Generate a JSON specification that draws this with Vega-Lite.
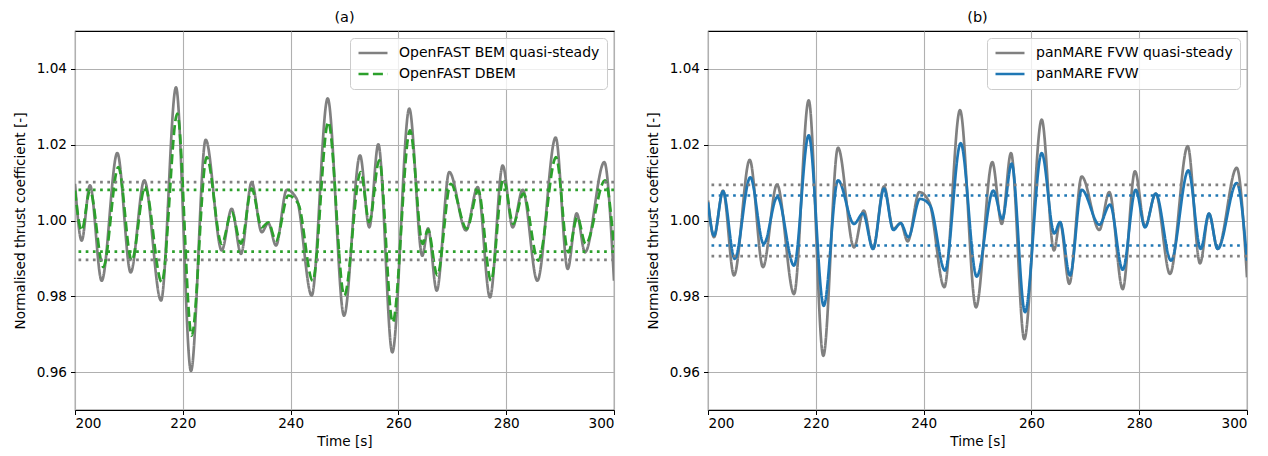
{
  "$schema": "https://vega.github.io/schema/vega-lite/v6.json",
  "padding": {"left": 12, "top": 8, "right": 5, "bottom": 5},
  "spacing": 29,
  "config": {
    "font": "DejaVu Sans",
    "view": {"stroke": "#000000", "strokeWidth": 1.1},
    "axis": {
      "domain": false,
      "grid": true,
      "gridColor": "#b0b0b0",
      "gridWidth": 1.1,
      "tickColor": "#000000",
      "tickSize": 4.5,
      "tickWidth": 1,
      "labelColor": "#000000",
      "labelFontSize": 13.6,
      "labelPadding": 4,
      "titleColor": "#000000",
      "titleFontSize": 13.6,
      "titleFontWeight": "normal",
      "titlePadding": 9
    },
    "axisX": {"labelPadding": 2, "titlePadding": 4},
    "legend": {
      "orient": "top-right",
      "offset": 7,
      "fillColor": "rgba(255,255,255,0.8)",
      "strokeColor": "#cccccc",
      "cornerRadius": 4,
      "padding": 7,
      "labelFontSize": 14,
      "labelColor": "#000000",
      "labelLimit": 0,
      "labelOffset": 10,
      "symbolType": "stroke",
      "symbolSize": 840,
      "symbolStrokeWidth": 2.6,
      "clipHeight": 16,
      "rowPadding": 5,
      "title": null
    },
    "title": {"fontSize": 14.5, "fontWeight": "normal", "color": "#000000", "offset": 6}
  },
  "resolve": {
    "scale": {"color": "independent", "strokeDash": "independent"},
    "legend": {"color": "independent", "strokeDash": "independent"}
  },
  "datasets": {
    "curves": [
      {"series": "OpenFAST BEM quasi-steady", "t": 200, "v": 1.0097},
      {"series": "OpenFAST BEM quasi-steady", "t": 201.24, "v": 0.9947},
      {"series": "OpenFAST BEM quasi-steady", "t": 202.78, "v": 1.0093},
      {"series": "OpenFAST BEM quasi-steady", "t": 204.95, "v": 0.9841},
      {"series": "OpenFAST BEM quasi-steady", "t": 207.85, "v": 1.0178},
      {"series": "OpenFAST BEM quasi-steady", "t": 210.33, "v": 0.9863},
      {"series": "OpenFAST BEM quasi-steady", "t": 212.86, "v": 1.0106},
      {"series": "OpenFAST BEM quasi-steady", "t": 215.96, "v": 0.9789},
      {"series": "OpenFAST BEM quasi-steady", "t": 218.74, "v": 1.0351},
      {"series": "OpenFAST BEM quasi-steady", "t": 221.52, "v": 0.9603},
      {"series": "OpenFAST BEM quasi-steady", "t": 224.25, "v": 1.0213},
      {"series": "OpenFAST BEM quasi-steady", "t": 227.22, "v": 0.9921},
      {"series": "OpenFAST BEM quasi-steady", "t": 229.07, "v": 1.0031},
      {"series": "OpenFAST BEM quasi-steady", "t": 230.80, "v": 0.9912},
      {"series": "OpenFAST BEM quasi-steady", "t": 232.78, "v": 1.0101},
      {"series": "OpenFAST BEM quasi-steady", "t": 234.64, "v": 0.9969},
      {"series": "OpenFAST BEM quasi-steady", "t": 235.86, "v": 0.9993},
      {"series": "OpenFAST BEM quasi-steady", "t": 237.29, "v": 0.9934},
      {"series": "OpenFAST BEM quasi-steady", "t": 239.28, "v": 1.0081},
      {"series": "OpenFAST BEM quasi-steady", "t": 241.13, "v": 1.0057},
      {"series": "OpenFAST BEM quasi-steady", "t": 243.91, "v": 0.9802},
      {"series": "OpenFAST BEM quasi-steady", "t": 246.88, "v": 1.0322},
      {"series": "OpenFAST BEM quasi-steady", "t": 249.91, "v": 0.9749},
      {"series": "OpenFAST BEM quasi-steady", "t": 252.88, "v": 1.0172},
      {"series": "OpenFAST BEM quasi-steady", "t": 254.60, "v": 0.9982},
      {"series": "OpenFAST BEM quasi-steady", "t": 256.27, "v": 1.0201},
      {"series": "OpenFAST BEM quasi-steady", "t": 258.87, "v": 0.9652},
      {"series": "OpenFAST BEM quasi-steady", "t": 262.02, "v": 1.0295},
      {"series": "OpenFAST BEM quasi-steady", "t": 264.43, "v": 0.9907},
      {"series": "OpenFAST BEM quasi-steady", "t": 265.50, "v": 0.9979},
      {"series": "OpenFAST BEM quasi-steady", "t": 267.11, "v": 0.9815},
      {"series": "OpenFAST BEM quasi-steady", "t": 269.44, "v": 1.0128},
      {"series": "OpenFAST BEM quasi-steady", "t": 272.54, "v": 0.9974},
      {"series": "OpenFAST BEM quasi-steady", "t": 274.71, "v": 1.0088},
      {"series": "OpenFAST BEM quasi-steady", "t": 276.99, "v": 0.9797},
      {"series": "OpenFAST BEM quasi-steady", "t": 279.35, "v": 1.0145},
      {"series": "OpenFAST BEM quasi-steady", "t": 281.20, "v": 0.9982},
      {"series": "OpenFAST BEM quasi-steady", "t": 283.06, "v": 1.0081},
      {"series": "OpenFAST BEM quasi-steady", "t": 285.77, "v": 0.9841},
      {"series": "OpenFAST BEM quasi-steady", "t": 289.18, "v": 1.0219},
      {"series": "OpenFAST BEM quasi-steady", "t": 291.41, "v": 0.9872},
      {"series": "OpenFAST BEM quasi-steady", "t": 293.08, "v": 1.0019},
      {"series": "OpenFAST BEM quasi-steady", "t": 294.62, "v": 0.9916},
      {"series": "OpenFAST BEM quasi-steady", "t": 298.20, "v": 1.0154},
      {"series": "OpenFAST BEM quasi-steady", "t": 300, "v": 0.9841},

      {"series": "OpenFAST DBEM", "t": 200, "v": 1.0079},
      {"series": "OpenFAST DBEM", "t": 201.24, "v": 0.9974},
      {"series": "OpenFAST DBEM", "t": 202.78, "v": 1.0079},
      {"series": "OpenFAST DBEM", "t": 205.25, "v": 0.9877},
      {"series": "OpenFAST DBEM", "t": 208.03, "v": 1.0141},
      {"series": "OpenFAST DBEM", "t": 210.52, "v": 0.9894},
      {"series": "OpenFAST DBEM", "t": 212.99, "v": 1.0088},
      {"series": "OpenFAST DBEM", "t": 216.09, "v": 0.9837},
      {"series": "OpenFAST DBEM", "t": 218.98, "v": 1.0282},
      {"series": "OpenFAST DBEM", "t": 221.65, "v": 0.9696},
      {"series": "OpenFAST DBEM", "t": 224.43, "v": 1.0167},
      {"series": "OpenFAST DBEM", "t": 227.22, "v": 0.9938},
      {"series": "OpenFAST DBEM", "t": 229.07, "v": 1.0022},
      {"series": "OpenFAST DBEM", "t": 230.80, "v": 0.9939},
      {"series": "OpenFAST DBEM", "t": 232.78, "v": 1.0084},
      {"series": "OpenFAST DBEM", "t": 234.64, "v": 0.9982},
      {"series": "OpenFAST DBEM", "t": 235.86, "v": 0.9995},
      {"series": "OpenFAST DBEM", "t": 237.29, "v": 0.9947},
      {"series": "OpenFAST DBEM", "t": 239.57, "v": 1.0066},
      {"series": "OpenFAST DBEM", "t": 241.43, "v": 1.0044},
      {"series": "OpenFAST DBEM", "t": 244.10, "v": 0.9841},
      {"series": "OpenFAST DBEM", "t": 246.99, "v": 1.0260},
      {"series": "OpenFAST DBEM", "t": 249.96, "v": 0.9802},
      {"series": "OpenFAST DBEM", "t": 253.00, "v": 1.0128},
      {"series": "OpenFAST DBEM", "t": 254.60, "v": 0.9996},
      {"series": "OpenFAST DBEM", "t": 256.45, "v": 1.0159},
      {"series": "OpenFAST DBEM", "t": 258.94, "v": 0.9731},
      {"series": "OpenFAST DBEM", "t": 262.15, "v": 1.0238},
      {"series": "OpenFAST DBEM", "t": 264.50, "v": 0.9938},
      {"series": "OpenFAST DBEM", "t": 265.49, "v": 0.9976},
      {"series": "OpenFAST DBEM", "t": 267.22, "v": 0.9855},
      {"series": "OpenFAST DBEM", "t": 269.70, "v": 1.0097},
      {"series": "OpenFAST DBEM", "t": 272.67, "v": 0.9978},
      {"series": "OpenFAST DBEM", "t": 274.82, "v": 1.0079},
      {"series": "OpenFAST DBEM", "t": 277.18, "v": 0.9841},
      {"series": "OpenFAST DBEM", "t": 279.46, "v": 1.0110},
      {"series": "OpenFAST DBEM", "t": 281.32, "v": 0.9991},
      {"series": "OpenFAST DBEM", "t": 283.17, "v": 1.0071},
      {"series": "OpenFAST DBEM", "t": 285.96, "v": 0.9894},
      {"series": "OpenFAST DBEM", "t": 289.24, "v": 1.0167},
      {"series": "OpenFAST DBEM", "t": 291.52, "v": 0.9916},
      {"series": "OpenFAST DBEM", "t": 293.19, "v": 1.0009},
      {"series": "OpenFAST DBEM", "t": 294.75, "v": 0.9938},
      {"series": "OpenFAST DBEM", "t": 298.33, "v": 1.0106},
      {"series": "OpenFAST DBEM", "t": 300, "v": 0.9929},

      {"series": "panMARE FVW quasi-steady", "t": 200, "v": 1.0053},
      {"series": "panMARE FVW quasi-steady", "t": 201.11, "v": 0.9956},
      {"series": "panMARE FVW quasi-steady", "t": 202.78, "v": 1.0079},
      {"series": "panMARE FVW quasi-steady", "t": 204.82, "v": 0.9855},
      {"series": "panMARE FVW quasi-steady", "t": 207.74, "v": 1.0160},
      {"series": "panMARE FVW quasi-steady", "t": 210.20, "v": 0.9877},
      {"series": "panMARE FVW quasi-steady", "t": 212.80, "v": 1.0095},
      {"series": "panMARE FVW quasi-steady", "t": 215.96, "v": 0.9806},
      {"series": "panMARE FVW quasi-steady", "t": 218.68, "v": 1.0317},
      {"series": "panMARE FVW quasi-steady", "t": 221.39, "v": 0.9643},
      {"series": "panMARE FVW quasi-steady", "t": 224.12, "v": 1.0192},
      {"series": "panMARE FVW quasi-steady", "t": 227.09, "v": 0.9929},
      {"series": "panMARE FVW quasi-steady", "t": 228.89, "v": 1.0026},
      {"series": "panMARE FVW quasi-steady", "t": 230.61, "v": 0.9925},
      {"series": "panMARE FVW quasi-steady", "t": 232.65, "v": 1.0090},
      {"series": "panMARE FVW quasi-steady", "t": 234.38, "v": 0.9978},
      {"series": "panMARE FVW quasi-steady", "t": 235.75, "v": 0.9993},
      {"series": "panMARE FVW quasi-steady", "t": 237.05, "v": 0.9945},
      {"series": "panMARE FVW quasi-steady", "t": 239.20, "v": 1.0075},
      {"series": "panMARE FVW quasi-steady", "t": 241.06, "v": 1.0048},
      {"series": "panMARE FVW quasi-steady", "t": 243.84, "v": 0.9824},
      {"series": "panMARE FVW quasi-steady", "t": 246.75, "v": 1.0291},
      {"series": "panMARE FVW quasi-steady", "t": 249.72, "v": 0.9771},
      {"series": "panMARE FVW quasi-steady", "t": 252.75, "v": 1.0154},
      {"series": "panMARE FVW quasi-steady", "t": 254.49, "v": 0.9991},
      {"series": "panMARE FVW quasi-steady", "t": 256.22, "v": 1.0178},
      {"series": "panMARE FVW quasi-steady", "t": 258.68, "v": 0.9687},
      {"series": "panMARE FVW quasi-steady", "t": 261.91, "v": 1.0266},
      {"series": "panMARE FVW quasi-steady", "t": 264.19, "v": 0.9921},
      {"series": "panMARE FVW quasi-steady", "t": 265.31, "v": 0.9996},
      {"series": "panMARE FVW quasi-steady", "t": 267.03, "v": 0.9833},
      {"series": "panMARE FVW quasi-steady", "t": 269.33, "v": 1.0116},
      {"series": "panMARE FVW quasi-steady", "t": 272.60, "v": 0.9975},
      {"series": "panMARE FVW quasi-steady", "t": 274.45, "v": 1.0075},
      {"series": "panMARE FVW quasi-steady", "t": 276.94, "v": 0.9819},
      {"series": "panMARE FVW quasi-steady", "t": 279.22, "v": 1.0130},
      {"series": "panMARE FVW quasi-steady", "t": 281.08, "v": 0.9984},
      {"series": "panMARE FVW quasi-steady", "t": 283.06, "v": 1.0071},
      {"series": "panMARE FVW quasi-steady", "t": 285.71, "v": 0.9859},
      {"series": "panMARE FVW quasi-steady", "t": 289.00, "v": 1.0196},
      {"series": "panMARE FVW quasi-steady", "t": 291.28, "v": 0.9887},
      {"series": "panMARE FVW quasi-steady", "t": 292.95, "v": 1.0018},
      {"series": "panMARE FVW quasi-steady", "t": 294.56, "v": 0.9925},
      {"series": "panMARE FVW quasi-steady", "t": 298.09, "v": 1.0139},
      {"series": "panMARE FVW quasi-steady", "t": 300, "v": 0.9850},

      {"series": "panMARE FVW", "t": 200, "v": 1.0048},
      {"series": "panMARE FVW", "t": 201.11, "v": 0.9960},
      {"series": "panMARE FVW", "t": 202.78, "v": 1.0077},
      {"series": "panMARE FVW", "t": 204.95, "v": 0.9899},
      {"series": "panMARE FVW", "t": 207.85, "v": 1.0114},
      {"series": "panMARE FVW", "t": 210.33, "v": 0.9938},
      {"series": "panMARE FVW", "t": 212.86, "v": 1.0062},
      {"series": "panMARE FVW", "t": 215.96, "v": 0.9881},
      {"series": "panMARE FVW", "t": 218.68, "v": 1.0225},
      {"series": "panMARE FVW", "t": 221.47, "v": 0.9775},
      {"series": "panMARE FVW", "t": 224.12, "v": 1.0106},
      {"series": "panMARE FVW", "t": 227.09, "v": 0.9991},
      {"series": "panMARE FVW", "t": 228.76, "v": 1.0019},
      {"series": "panMARE FVW", "t": 230.61, "v": 0.9925},
      {"series": "panMARE FVW", "t": 232.65, "v": 1.0084},
      {"series": "panMARE FVW", "t": 234.38, "v": 0.9975},
      {"series": "panMARE FVW", "t": 235.75, "v": 0.9993},
      {"series": "panMARE FVW", "t": 237.16, "v": 0.9956},
      {"series": "panMARE FVW", "t": 239.33, "v": 1.0057},
      {"series": "panMARE FVW", "t": 241.19, "v": 1.0040},
      {"series": "panMARE FVW", "t": 243.97, "v": 0.9868},
      {"series": "panMARE FVW", "t": 246.88, "v": 1.0204},
      {"series": "panMARE FVW", "t": 249.85, "v": 0.9852},
      {"series": "panMARE FVW", "t": 252.93, "v": 1.0079},
      {"series": "panMARE FVW", "t": 254.60, "v": 1.0004},
      {"series": "panMARE FVW", "t": 256.34, "v": 1.0150},
      {"series": "panMARE FVW", "t": 258.81, "v": 0.9758},
      {"series": "panMARE FVW", "t": 261.91, "v": 1.0178},
      {"series": "panMARE FVW", "t": 264.25, "v": 0.9966},
      {"series": "panMARE FVW", "t": 265.31, "v": 0.9996},
      {"series": "panMARE FVW", "t": 267.16, "v": 0.9855},
      {"series": "panMARE FVW", "t": 269.33, "v": 1.0081},
      {"series": "panMARE FVW", "t": 272.60, "v": 0.9989},
      {"series": "panMARE FVW", "t": 274.58, "v": 1.0042},
      {"series": "panMARE FVW", "t": 276.94, "v": 0.9870},
      {"series": "panMARE FVW", "t": 279.35, "v": 1.0081},
      {"series": "panMARE FVW", "t": 281.08, "v": 0.9982},
      {"series": "panMARE FVW", "t": 283.06, "v": 1.0071},
      {"series": "panMARE FVW", "t": 285.90, "v": 0.9894},
      {"series": "panMARE FVW", "t": 289.11, "v": 1.0132},
      {"series": "panMARE FVW", "t": 291.41, "v": 0.9925},
      {"series": "panMARE FVW", "t": 292.95, "v": 1.0018},
      {"series": "panMARE FVW", "t": 294.56, "v": 0.9925},
      {"series": "panMARE FVW", "t": 298.09, "v": 1.0099},
      {"series": "panMARE FVW", "t": 300, "v": 0.9894}
    ],
    "levels": [
      {"series": "OpenFAST BEM quasi-steady", "level": 1.0101},
      {"series": "OpenFAST BEM quasi-steady", "level": 0.9896},
      {"series": "OpenFAST DBEM", "level": 1.0081},
      {"series": "OpenFAST DBEM", "level": 0.9918},
      {"series": "panMARE FVW quasi-steady", "level": 1.0094},
      {"series": "panMARE FVW quasi-steady", "level": 0.9906},
      {"series": "panMARE FVW", "level": 1.0066},
      {"series": "panMARE FVW", "level": 0.9934}
    ]
  },
  "hconcat": [
    {
      "title": "(a)",
      "width": 539,
      "height": 379,
      "layer": [
        {
          "data": {"name": "curves"},
          "transform": [{"filter": {"field": "series", "oneOf": ["OpenFAST BEM quasi-steady", "OpenFAST DBEM"]}}],
          "mark": {"type": "line", "interpolate": "monotone", "strokeWidth": 2.7, "clip": true},
          "encoding": {
            "x": {"field": "t", "type": "quantitative", "title": "Time [s]",
                  "scale": {"domain": [200, 300], "nice": false},
                  "axis": {"values": [200, 220, 240, 260, 280, 300]}},
            "y": {"field": "v", "type": "quantitative", "title": "Normalised thrust coefficient [-]",
                  "scale": {"domain": [0.95, 1.05], "nice": false, "zero": false},
                  "axis": {"values": [0.96, 0.98, 1.0, 1.02, 1.04], "format": ".2f"}},
            "color": {"field": "series", "type": "nominal",
                      "scale": {"domain": ["OpenFAST BEM quasi-steady", "OpenFAST DBEM"], "range": ["#808080", "#2ca02c"]}},
            "strokeDash": {"field": "series", "type": "nominal",
                           "scale": {"domain": ["OpenFAST BEM quasi-steady", "OpenFAST DBEM"], "range": [[1, 0], [10, 4.4]]}}
          }
        },
        {
          "data": {"name": "levels"},
          "transform": [{"filter": {"field": "series", "equal": "OpenFAST BEM quasi-steady"}}],
          "mark": {"type": "rule", "color": "#808080", "strokeWidth": 2.7, "strokeDash": [2.7, 4.5]},
          "encoding": {"y": {"field": "level", "type": "quantitative"}}
        },
        {
          "data": {"name": "levels"},
          "transform": [{"filter": {"field": "series", "equal": "OpenFAST DBEM"}}],
          "mark": {"type": "rule", "color": "#2ca02c", "strokeWidth": 2.7, "strokeDash": [2.7, 4.5]},
          "encoding": {"y": {"field": "level", "type": "quantitative"}}
        }
      ]
    },
    {
      "title": "(b)",
      "width": 539,
      "height": 379,
      "layer": [
        {
          "data": {"name": "curves"},
          "transform": [{"filter": {"field": "series", "oneOf": ["panMARE FVW quasi-steady", "panMARE FVW"]}}],
          "mark": {"type": "line", "interpolate": "monotone", "strokeWidth": 2.7, "clip": true},
          "encoding": {
            "x": {"field": "t", "type": "quantitative", "title": "Time [s]",
                  "scale": {"domain": [200, 300], "nice": false},
                  "axis": {"values": [200, 220, 240, 260, 280, 300]}},
            "y": {"field": "v", "type": "quantitative", "title": "Normalised thrust coefficient [-]",
                  "scale": {"domain": [0.95, 1.05], "nice": false, "zero": false},
                  "axis": {"values": [0.96, 0.98, 1.0, 1.02, 1.04], "format": ".2f"}},
            "color": {"field": "series", "type": "nominal",
                      "scale": {"domain": ["panMARE FVW quasi-steady", "panMARE FVW"], "range": ["#808080", "#1f77b4"]}},
            "strokeDash": {"field": "series", "type": "nominal",
                           "scale": {"domain": ["panMARE FVW quasi-steady", "panMARE FVW"], "range": [[1, 0], [1, 0]]}}
          }
        },
        {
          "data": {"name": "levels"},
          "transform": [{"filter": {"field": "series", "equal": "panMARE FVW quasi-steady"}}],
          "mark": {"type": "rule", "color": "#808080", "strokeWidth": 2.7, "strokeDash": [2.7, 4.5]},
          "encoding": {"y": {"field": "level", "type": "quantitative"}}
        },
        {
          "data": {"name": "levels"},
          "transform": [{"filter": {"field": "series", "equal": "panMARE FVW"}}],
          "mark": {"type": "rule", "color": "#1f77b4", "strokeWidth": 2.7, "strokeDash": [2.7, 4.5]},
          "encoding": {"y": {"field": "level", "type": "quantitative"}}
        }
      ]
    }
  ]
}
